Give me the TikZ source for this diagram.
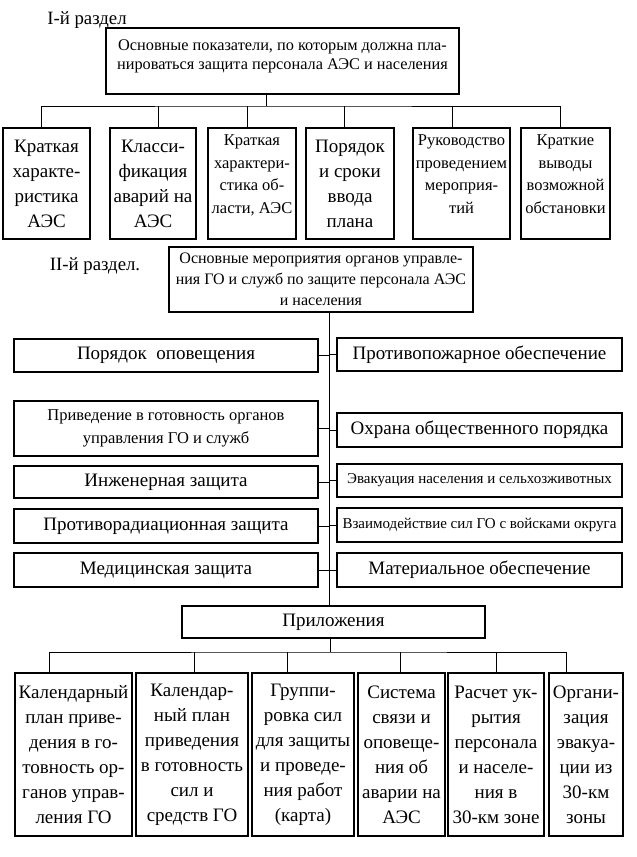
\documentclass[tikz,border=0pt]{standalone}
\usepackage{fontspec}
\setmainfont{Liberation Serif}

\begin{document}
\begin{tikzpicture}[x=1pt,y=-1pt]
  % Стили
  \tikzstyle{bigbox}=[rectangle, draw, line width=1.1pt, align=center, inner sep=0pt, font=\fontsize{19}{25}\selectfont]
  \tikzstyle{midbox}=[bigbox, font=\fontsize{16.5}{22.5}\selectfont]
  \tikzstyle{smallbox}=[bigbox, font=\fontsize{15}{18}\selectfont]
  \tikzstyle{razdel}=[font=\fontsize{18.8}{20}\selectfont]
  \tikzstyle{lnk}=[line width=0.8pt]

  \useasboundingbox (0,0) rectangle (637,857);

  % I-й раздел
  \node[razdel] (rz1) at (87,20) {I-й раздел};
  \node[bigbox, minimum width=353pt, minimum height=66pt, text depth=13pt, font=\fontsize{16.3}{18.5}\selectfont] (pokaz) at (282.5,61) {Основные показатели, по которым должна пла-\\нироваться защита персонала АЭС и населения};

  % Показатели
  \node[bigbox, minimum width=87pt, minimum height=111pt] (t1) at (46.5,183.5) {Краткая\\характе-\\ристика\\АЭС};
  \node[bigbox, minimum width=86pt, minimum height=111pt] (t2) at (153,183.5) {Класси-\\фикация\\аварий на\\АЭС};
  \node[midbox, minimum width=88pt, minimum height=111pt, text depth=19pt] (t3) at (252,183.5) {Краткая\\характери-\\стика об-\\ласти, АЭС};
  \node[bigbox, minimum width=88pt, minimum height=111pt] (t4) at (350,183.5) {Порядок\\и сроки\\ввода\\плана};
  \node[midbox, minimum width=97pt, minimum height=111pt, text depth=19pt] (t5) at (461.5,183.5) {Руководство\\проведением\\мероприя-\\тий};
  \node[midbox, minimum width=89pt, minimum height=111pt, text depth=19pt] (t6) at (565.5,183.5) {Краткие\\выводы\\возможной\\обстановки};

  \coordinate (bus1) at (266,106);
  \draw[lnk] ([xshift=-16.5pt]pokaz.south) -- (bus1);
  \draw[lnk] ([xshift=-5.5pt]t1.north) |- (bus1) -| ([xshift=-5.5pt]t6.north);
  \foreach \n/\dx in {t2/5, t3/-5, t4/-6, t5/-9.5}
    \draw[lnk] ([xshift=\dx pt]\n.north) -- ([xshift=\dx pt]\n.north |- bus1);

  % II-й раздел
  \node[razdel] (rz2) at (95,266) {II-й раздел.};
  \node[midbox, minimum width=304pt, minimum height=65pt, font=\fontsize{16}{21}\selectfont] (osn) at (321,279.5) {Основные мероприятия органов управле-\\ния ГО и служб по защите персонала АЭС\\и населения};

  % Мероприятия слева
  \node[bigbox, minimum width=304pt, minimum height=33pt] (l1) at (166,355.5) {Порядок\ \ оповещения};
  \node[midbox, minimum width=304pt, minimum height=55pt] (l2) at (166,428.5) {Приведение в готовность органов\\управления ГО и служб};
  \node[bigbox, minimum width=304pt, minimum height=32pt] (l3) at (166,482) {Инженерная защита};
  \node[bigbox, minimum width=304pt, minimum height=34pt] (l4) at (166,526) {Противорадиационная защита};
  \node[bigbox, minimum width=304pt, minimum height=34pt] (l5) at (166,570) {Медицинская защита};

  % Мероприятия справа
  \node[bigbox, minimum width=285pt, minimum height=33pt] (p1) at (479.5,354.5) {Противопожарное обеспечение};
  \node[bigbox, minimum width=285pt, minimum height=34pt] (p2) at (479.5,430) {Охрана общественного порядка};
  \node[smallbox, minimum width=285pt, minimum height=33pt] (p3) at (479.5,480.5) {Эвакуация населения и сельхозживотных};
  \node[smallbox, minimum width=285pt, minimum height=34pt] (p4) at (479.5,525) {Взаимодействие сил ГО с войсками округа};
  \node[bigbox, minimum width=285pt, minimum height=34pt] (p5) at (479.5,570) {Материальное обеспечение};

  % Приложения
  \node[bigbox, minimum width=303pt, minimum height=32pt] (pril) at (333.5,622) {Приложения};

  \coordinate (sp1) at ([xshift=8pt]osn.south);
  \coordinate (sp2) at (sp1 |- pril.north);
  \draw[lnk] (sp1) -- (sp2);
  \foreach \n in {l1,l2,l3,l4,l5}
    \draw[lnk] (\n.east) -- (\n.east -| sp1);
  \foreach \n in {p1,p2,p3,p4,p5}
    \draw[lnk] (\n.west) -- (\n.west -| sp1);

  \node[bigbox, minimum width=117pt, minimum height=163pt] (b1) at (73.5,754.5) {Календарный\\план приве-\\дения в го-\\товность ор-\\ганов управ-\\ления ГО};
  \node[bigbox, minimum width=112pt, minimum height=163pt] (b2) at (192,754.5) {Календар-\\ный план\\приведения\\в готовность\\сил и\\средств ГО};
  \node[bigbox, minimum width=102pt, minimum height=163pt] (b3) at (303,754.5) {Группи-\\ровка сил\\для защиты\\и проведе-\\ния работ\\(карта)};
  \node[bigbox, minimum width=87pt, minimum height=163pt] (b4) at (401.5,754.5) {Система\\связи и\\оповеще-\\ния об\\аварии на\\АЭС};
  \node[bigbox, minimum width=96pt, minimum height=163pt] (b5) at (496,754.5) {Расчет ук-\\рытия\\персонала\\и населе-\\ния в\\30-км зоне};
  \node[bigbox, minimum width=74pt, minimum height=163pt] (b6) at (586,754.5) {Органи-\\зация\\эвакуа-\\ции из\\30-км\\зоны};

  \coordinate (bus2) at (330,652);
  \draw[lnk] ([xshift=-3.5pt]pril.south) -- (bus2);
  \draw[lnk] ([xshift=-24.5pt]b1.north) |- (bus2) -| ([xshift=-20pt]b6.north);
  \foreach \n/\dx in {b2/2, b3/-16, b4/-1.5, b5/0}
    \draw[lnk] ([xshift=\dx pt]\n.north) -- ([xshift=\dx pt]\n.north |- bus2);
\end{tikzpicture}
\end{document}
